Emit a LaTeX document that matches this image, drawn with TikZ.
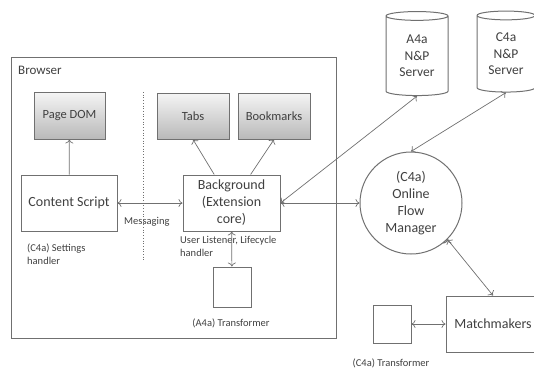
\documentclass[tikz,border=0pt]{standalone}
\usepackage{fontspec}
\setmainfont{Carlito}
\usetikzlibrary{positioning}
\usetikzlibrary{shapes.geometric}
\usetikzlibrary{%
  calc,%
  arrows.meta%
}
\definecolor{ink}{HTML}{404040}
\definecolor{rim}{HTML}{707070}
\tikzset{
  box/.style={draw=rim, line width=1pt, text=ink, align=center,
    font=\fontsize{14}{17}\selectfont, inner sep=0pt},
  graybox/.style={box, top color=gray!8, bottom color=gray!55,
    minimum width=72pt, minimum height=46pt, font=\fontsize{12.5}{15}\selectfont},
  db/.style={box, cylinder, shape border rotate=90, aspect=0.25,
    font=\fontsize{13.5}{16.5}\selectfont},
  note/.style={text=ink, font=\fontsize{10.5}{13}\selectfont, inner sep=0pt, align=left},
  link/.style={draw=rim, line width=0.7pt, >={To[length=4pt,width=8pt]}}
}
\begin{document}
\begin{tikzpicture}[x=1pt,y=-1pt]
\useasboundingbox (0,0) rectangle (534,368);

\node[box, minimum width=325pt, minimum height=281pt] (browser) at (173.5,197.5) {};
\node[note, font=\fontsize{13}{15}\selectfont, anchor=west] (brlabel) at (18,70) {Browser};

\node[graybox, minimum width=71pt, minimum height=47pt] (dom) at (69.5,115.5) {Page DOM};
\node[graybox] (tabs) at (193,116) {Tabs};
\node[graybox] (bookmarks) at (274,116) {Bookmarks};

\node[box, minimum width=96pt, minimum height=56pt] (content) at (69,203) {Content Script};
\node[box, minimum width=97pt, minimum height=56pt] (background) at (231.5,203) {Background\\(Extension\\core)};
\node[box, minimum width=38pt, minimum height=40pt] (atrans) at (232,287) {};

\node[note, anchor=west] (msg) at (124,222) {Messaging};
\node[note, anchor=north west] (settings) at (27,244) {(C4a) Settings\\handler};
\node[note, anchor=north west] (listener) at (180,236) {User Listener, Lifecycle\\handler};
\node[note] (atranslabel) at (231,323) {(A4a) Transformer};

\coordinate (sep1) at (143,92);
\coordinate (sep2) at (143,260);
\draw[rim, line width=0.7pt, dotted] (sep1) -- (sep2);

\node[db, minimum width=62pt, minimum height=84pt] (anp) at (417,56) {A4a\\N\&P\\Server};
\node[db, minimum width=58pt, minimum height=81pt] (cnp) at (506,54) {C4a\\N\&P\\Server};

\node[box, circle, minimum size=102pt] (flow) at (411,203) {(C4a)\\Online\\Flow\\Manager};

\node[box, minimum width=94pt, minimum height=56pt] (match) at (493,324) {Matchmakers};
\node[box, minimum width=38pt, minimum height=38pt] (ctrans) at (392,324) {};
\node[note] (ctranslabel) at (391,363) {(C4a) Transformer};

\path[link, ->] (content) edge (dom)
           (background) edge (tabs.south)
           (background) edge (bookmarks.south);
\path[link, <->] (content) edge (background)
           (background) edge (atrans)
           (background.east) edge (anp.south)
           (background.east) edge (flow)
           (flow.north) edge (cnp.south)
           (flow.-45) edge (match.north)
           (ctrans) edge (match);

\end{tikzpicture}
\end{document}
